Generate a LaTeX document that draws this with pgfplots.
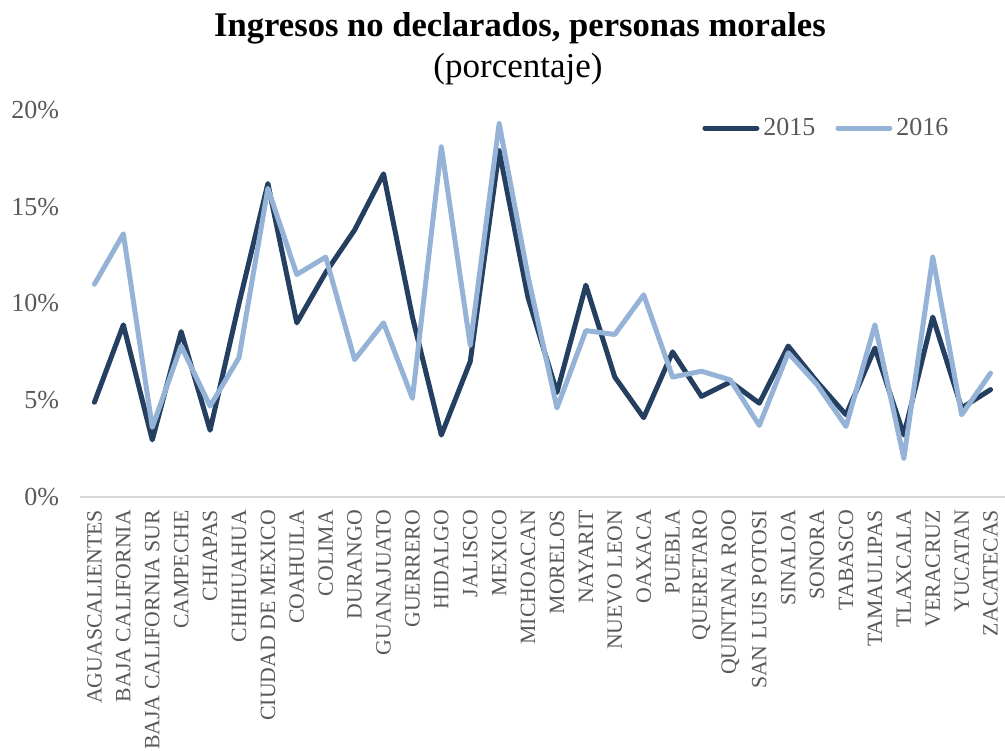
\documentclass[border=0pt]{standalone}
\usepackage{fontspec}
\setmainfont{Liberation Serif}
\usepackage{pgfplots}
\usepackage{pgfplotstable}
\pgfplotsset{compat=1.18}

\definecolor{serA}{HTML}{243F60}
\definecolor{serB}{HTML}{95B3D7}
\definecolor{tickgray}{HTML}{595959}
\definecolor{axisgray}{HTML}{D9D9D9}

% ingresos no declarados (%), por entidad
\pgfplotstableread{
idx y2015 y2016
0  4.9  11.0
1  8.9  13.6
2  2.95 3.6
3  8.55 7.8
4  3.45 4.7
5  10.0 7.2
6  16.2 15.95
7  9.0  11.5
8  11.6 12.4
9  13.8 7.1
10 16.7 9.0
11 9.3  5.1
12 3.2  18.1
13 7.0  7.85
14 17.9 19.3
15 10.3 11.4
16 5.4  4.6
17 10.95 8.6
18 6.2  8.4
19 4.1  10.45
20 7.5  6.2
21 5.2  6.5
22 5.95 6.05
23 4.85 3.7
24 7.8  7.45
25 5.95 5.8
26 4.25 3.65
27 7.7  8.9
28 3.2  2.0
29 9.3  12.4
30 4.6  4.25
31 5.55 6.4
}\datos

\begin{document}
\begin{tikzpicture}
\path[use as bounding box] (-40pt,-126.5pt) rectangle (462.5pt,248.5pt);
\begin{axis}[
    at={(0pt,0pt)}, anchor=south west,
    scale only axis, width=462.5pt, height=193.5pt,
    xmin=-0.5, xmax=31.5, ymin=0, ymax=20,
    axis lines*=left,
    y axis line style={draw=none},
    x axis line style={axisgray, line width=1pt},
    tick style={draw=none},
    xtick={0,...,31},
    xticklabels={AGUASCALIENTES,BAJA CALIFORNIA,BAJA CALIFORNIA SUR,CAMPECHE,CHIAPAS,CHIHUAHUA,CIUDAD DE MEXICO,COAHUILA,COLIMA,DURANGO,GUANAJUATO,GUERRERO,HIDALGO,JALISCO,MEXICO,MICHOACAN,MORELOS,NAYARIT,NUEVO LEON,OAXACA,PUEBLA,QUERETARO,QUINTANA ROO,SAN LUIS POTOSI,SINALOA,SONORA,TABASCO,TAMAULIPAS,TLAXCALA,VERACRUZ,YUCATAN,ZACATECAS},
    xticklabel style={rotate=90, anchor=east, xshift=-3pt, font=\fontsize{10.9}{12}\selectfont, text=tickgray},
    ytick={0,5,10,15,20},
    yticklabel={\pgfmathprintnumber{\tick}\%},
    /pgf/number format/assume math mode=true,
    yticklabel style={xshift=-7pt, font=\fontsize{13}{15}\selectfont, text=tickgray},
    legend style={at={(0.808,0.953)}, anchor=center, draw=none, fill=none,
        legend columns=2, font=\fontsize{13}{15}\selectfont, text=tickgray,
        /tikz/every even column/.append style={column sep=8pt}},
    legend image code/.code={\draw[#1] (0pt,0pt) -- (26pt,0pt);},
]
\addplot[serA, line width=2.5pt, line join=round, line cap=round] table[x=idx, y=y2015] {\datos};
\addlegendentry{2015}
\addplot[serB, line width=2.5pt, line join=round, line cap=round] table[x=idx, y=y2016] {\datos};
\addlegendentry{2016}
\end{axis}
\node[font=\bfseries\fontsize{17.3}{20}\selectfont] at (220pt,234.5pt) {Ingresos no declarados, personas morales};
\node[font=\fontsize{17.5}{20}\selectfont] at (219pt,214pt) {(porcentaje)};
\end{tikzpicture}
\end{document}
